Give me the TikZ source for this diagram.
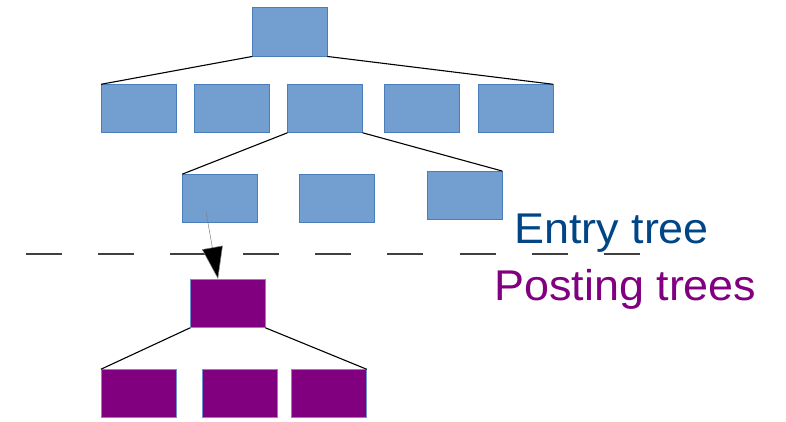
\documentclass[tikz,border=0pt]{standalone}
\usepackage{fontspec}
\setmainfont{Liberation Sans}
\usetikzlibrary{arrows.meta}
\definecolor{entryfill}{HTML}{729FCF}
\definecolor{entryline}{HTML}{4A7EBB}
\definecolor{postfill}{HTML}{800080}
\definecolor{postline}{HTML}{6F8FD0}
\definecolor{entrytext}{HTML}{004586}
\definecolor{posttext}{HTML}{800080}
\definecolor{sepline}{HTML}{404040}
\newcommand{\widetext}[1]{\scalebox{1.045}[1]{#1}}
\begin{document}
\begin{tikzpicture}[x=1pt,y=-1pt,
  ebox/.style={rectangle,fill=entryfill,draw=entryline,line width=1pt,
    minimum width=75pt,minimum height=48.5pt,inner sep=0pt,outer sep=0pt},
  pbox/.style={rectangle,fill=postfill,draw=postline,line width=0.8pt,
    minimum width=75pt,minimum height=48.5pt,inner sep=0pt,outer sep=0pt},
  link/.style={draw=black,line width=1.1pt},
  label/.style={font=\fontsize{43}{50}\selectfont,inner sep=0pt,anchor=base west}]
\useasboundingbox (0,0) rectangle (786,421);

% entry tree
\node[ebox] (top) at (289.8,32.2) {};
\node[ebox] (r1) at (138.7,108.5) {};
\node[ebox] (r2) at (231.8,108.5) {};
\node[ebox] (r3) at (325.0,108.5) {};
\node[ebox] (r4) at (421.8,108.5) {};
\node[ebox] (r5) at (515.5,108.5) {};
\node[ebox] (c1) at (219.8,198.4) {};
\node[ebox] (c2) at (336.5,198.5) {};
\node[ebox] (c3) at (464.8,195.3) {};

\draw[link] (top.south west) -- (r1.north west);
\draw[link] (top.south east) -- (r5.north east);
\draw[link] (r3.south west) -- (c1.north west);
\draw[link] (r3.south east) -- (c3.north east);

% posting tree
\node[pbox] (p) at (227.8,303.5) {};
\node[pbox] (b1) at (138.4,393.5) {};
\node[pbox] (b2) at (239.5,393.5) {};
\node[pbox] (b3) at (329.2,393.5) {};

\draw[link] (p.south west) -- (b1.north west);
\draw[link] (p.south east) -- (b3.north east);

% separator between the two trees
\coordinate (dl) at (25.7,254);
\coordinate (dr) at (640,254);
\draw[sepline,line width=1.6pt,dash pattern=on 36pt off 36.3pt] (dl) -- (dr);

% pointer from the entry leaf to the posting tree
\coordinate (arrstart) at (206,212);
\coordinate (arrend) at (218,279);
\draw[gray,line width=0.5pt,-{Triangle[length=32pt,width=21pt,fill=black]}] (arrstart) -- (arrend);

% labels
\node[label,text=entrytext] (entry) at (514,243.5) {\widetext{Entry tree}};
\node[label,text=posttext] (posting) at (494,300) {\widetext{Posting trees}};
\end{tikzpicture}
\end{document}
